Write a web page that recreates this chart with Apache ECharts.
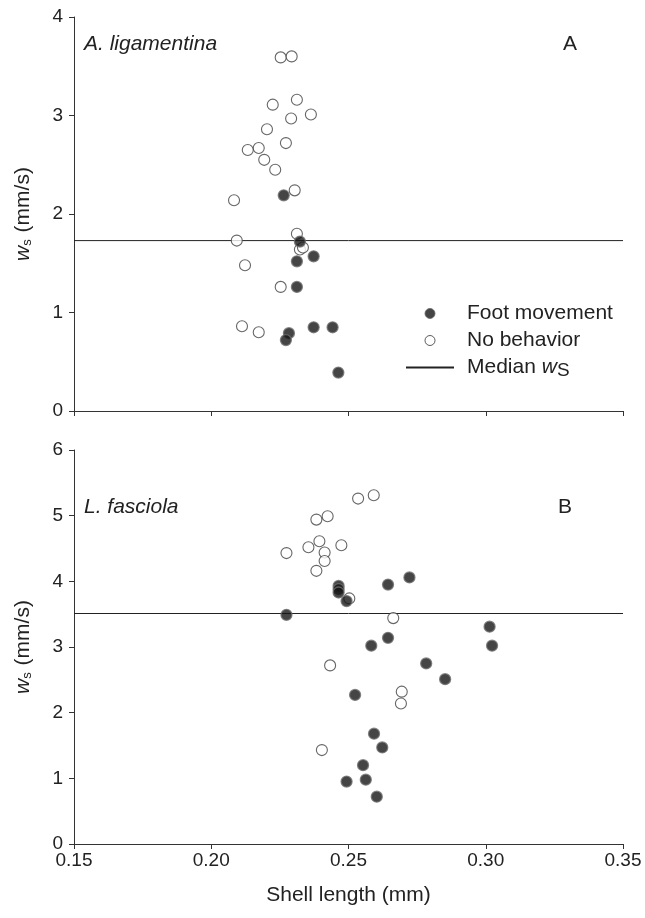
<!DOCTYPE html>
<html>
<head>
<meta charset="utf-8">
<script src="https://cdn.jsdelivr.net/npm/echarts@6/dist/echarts.min.js"></script>
<style>
  html, body { margin: 0; padding: 0; background: #fff; }
  #chart { width: 645px; height: 918px; }
</style>
</head>
<body>
<div id="chart"></div>
<script>
// x ticks (shell length, mm)
const xMin = 0.15, xMax = 0.35, xStep = 0.05

// A. ligamentina
const aFootX = [0.2264, 0.2323, 0.2373, 0.2312, 0.2312, 0.2283, 0.2272, 0.2373, 0.2442, 0.2463]
const aFootY = [2.19, 1.72, 1.57, 1.52, 1.26, 0.79, 0.72, 0.85, 0.85, 0.39]
const aNoneX = [0.2253, 0.2293, 0.2224, 0.2312, 0.2363, 0.2291, 0.2203, 0.2272, 0.2133, 0.2173, 0.2193,
  0.2233, 0.2304, 0.2083, 0.2093, 0.2312, 0.2323, 0.2334, 0.2123, 0.2253, 0.2112, 0.2173]
const aNoneY = [3.59, 3.60, 3.11, 3.16, 3.01, 2.97, 2.86, 2.72, 2.65, 2.67, 2.55,
  2.45, 2.24, 2.14, 1.73, 1.80, 1.64, 1.66, 1.48, 1.26, 0.86, 0.80]
const aMedian = 1.73

// L. fasciola
const bFootX = [0.2464, 0.2464, 0.2464, 0.2493, 0.2644, 0.2722, 0.2274, 0.3014, 0.3023, 0.2644,
  0.2583, 0.2783, 0.2852, 0.2524, 0.2593, 0.2623, 0.2553, 0.2493, 0.2563, 0.2603]
const bFootY = [3.93, 3.88, 3.83, 3.70, 3.95, 4.06, 3.49, 3.31, 3.02, 3.14,
  3.02, 2.75, 2.51, 2.27, 1.68, 1.47, 1.20, 0.95, 0.98, 0.72]
const bNoneX = [0.2535, 0.2592, 0.2383, 0.2424, 0.2274, 0.2354, 0.2394, 0.2474, 0.2413, 0.2413,
  0.2383, 0.2503, 0.2663, 0.2433, 0.2694, 0.2691, 0.2403]
const bNoneY = [5.26, 5.31, 4.94, 4.99, 4.43, 4.52, 4.61, 4.55, 4.44, 4.31,
  4.16, 3.74, 3.44, 2.72, 2.32, 2.14, 1.43]
const bMedian = 3.51

const pairs = (xs, ys) => xs.map((x, i) => [x, ys[i]])

const chart = echarts.init(document.getElementById('chart'), null, { renderer: 'canvas' })

const txt = '#222'
const font = 'Liberation Sans, Arial, sans-serif'

const footStyle = { color: '#161616', borderColor: '#707070', borderWidth: 1.3 }
const noneStyle = { color: '#fff', borderColor: '#404040', borderWidth: 1.1 }

const xAxisBase = (gridIndex, showLabel) => ({
  type: 'value', gridIndex, min: xMin, max: xMax, interval: xStep,
  axisLine: { show: true, onZero: false, lineStyle: { color: '#333', width: 1 } },
  axisTick: { show: true, length: 5, lineStyle: { color: '#333' } },
  splitLine: { show: false },
  axisLabel: {
    show: showLabel, color: txt, fontSize: 19, fontFamily: font, margin: 7,
    formatter: v => v.toFixed(2)
  },
  name: showLabel ? 'Shell length (mm)' : '',
  nameLocation: 'middle', nameGap: 41,
  nameTextStyle: { color: txt, fontSize: 21, fontFamily: font }
})

const yAxisBase = (gridIndex, max, interval) => ({
  type: 'value', gridIndex, min: 0, max, interval,
  axisLine: { show: true, onZero: false, lineStyle: { color: '#333', width: 1 } },
  axisTick: { show: true, length: 5, lineStyle: { color: '#333' } },
  splitLine: { show: false },
  axisLabel: { color: txt, fontSize: 19, fontFamily: font, margin: 11 },
  name: '{i|w}{s|s} (mm/s)',
  nameLocation: 'middle', nameGap: 40, nameRotate: 90,
  nameTextStyle: {
    color: txt, fontSize: 21, fontFamily: font,
    rich: {
      i: { fontStyle: 'italic', fontSize: 21, fontFamily: font, color: txt },
      s: { fontSize: 13, fontFamily: font, color: txt, padding: [9, 1, 0, 0] }
    }
  }
})

const scatter = (name, idx, data, style) => ({
  name, type: 'scatter', xAxisIndex: idx, yAxisIndex: idx,
  data, symbol: 'circle', symbolSize: 11, itemStyle: style, z: 3
})

const median = (idx, v) => ({
  name: 'Median', type: 'line', xAxisIndex: idx, yAxisIndex: idx,
  data: [[xMin, v], [xMax, v]], symbol: 'none',
  itemStyle: { color: '#222', opacity: 0 },
  lineStyle: { color: '#222', width: 1 }, z: 2
})

chart.setOption({
  backgroundColor: '#fff',
  animation: false,
  grid: [
    { left: 74, right: 22, top: 17, height: 394 },
    { left: 74, right: 22, top: 450, height: 394 }
  ],
  xAxis: [xAxisBase(0, false), xAxisBase(1, true)],
  yAxis: [yAxisBase(0, 4, 1), yAxisBase(1, 6, 1)],
  legend: {
    orient: 'vertical', left: 400, top: 298,
    itemWidth: 48, itemHeight: 10, itemGap: 6,
    textStyle: {
      color: txt, fontSize: 21, fontFamily: font, lineHeight: 21, padding: [0, 0, 0, 8],
      rich: {
        i: { fontStyle: 'italic', fontSize: 21, fontFamily: font, color: txt },
        s: { fontSize: 19, fontFamily: font, color: txt, padding: [7, 0, 0, 0] }
      }
    },
    formatter: n => n === 'Median' ? 'Median {i|w}{s|S}' : n,
    data: [
      { name: 'Foot movement', icon: 'circle', itemStyle: { color: '#161616', borderColor: '#666', borderWidth: 1 } },
      { name: 'No behavior', icon: 'circle', itemStyle: { color: '#fff', borderColor: '#333', borderWidth: 1 } },
      { name: 'Median' }
    ]
  },
  graphic: [
    { type: 'text', left: 84, top: 34, style: { text: 'A. ligamentina', fontSize: 21, fontStyle: 'italic', fontFamily: font, fill: txt } },
    { type: 'text', left: 563, top: 34, style: { text: 'A', fontSize: 21, fontFamily: font, fill: txt } },
    { type: 'text', left: 84, top: 497, style: { text: 'L. fasciola', fontSize: 21, fontStyle: 'italic', fontFamily: font, fill: txt } },
    { type: 'text', left: 558, top: 497, style: { text: 'B', fontSize: 21, fontFamily: font, fill: txt } }
  ],
  series: [
    median(0, aMedian),
    scatter('No behavior', 0, pairs(aNoneX, aNoneY), noneStyle),
    scatter('Foot movement', 0, pairs(aFootX, aFootY), footStyle),
    median(1, bMedian),
    scatter('No behavior', 1, pairs(bNoneX, bNoneY), noneStyle),
    scatter('Foot movement', 1, pairs(bFootX, bFootY), footStyle)
  ]
})
</script>
</body>
</html>
